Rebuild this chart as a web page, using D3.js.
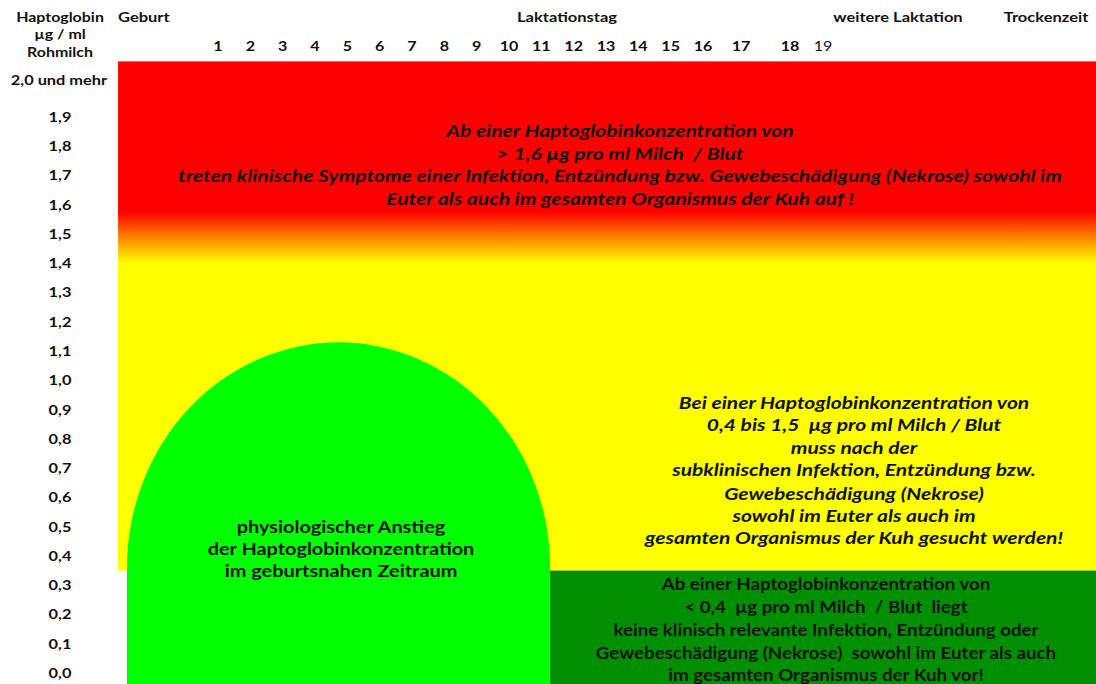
<!DOCTYPE html>
<html>
<head>
<meta charset="utf-8">
<script src="https://cdn.jsdelivr.net/npm/d3@7"></script>
<style>
  body { margin: 0; background: #fff; }
  text { font-family: Lato, "Open Sans", sans-serif; font-weight: bold; fill: #111; white-space: pre; }
</style>
</head>
<body>
<div id="chart"></div>
<script>
// y axis labels (µg / ml) and day labels
let yTicks = [0.0, 0.1, 0.2, 0.3, 0.4, 0.5, 0.6, 0.7, 0.8, 0.9, 1.0, 1.1, 1.2, 1.3, 1.4, 1.5, 1.6, 1.7, 1.8, 1.9];
let topLabel = "2,0 und mehr";
let days = [1, 2, 3, 4, 5, 6, 7, 8, 9, 10, 11, 12, 13, 14, 15, 16, 17, 18, 19];
let headers = ["Geburt", "Laktationstag", "weitere Laktation", "Trockenzeit"];
let yTitle = ["Haptoglobin", "µg / ml", "Rohmilch"];

// zones in data units (day, µg/ml)
let redZone = {from: 1.57, to: 2.09};
let fadeZone = {from: 1.40, to: 1.575};
let yellowZone = {from: 0.35, to: 1.40};
let darkGreenZone = {dayFrom: 11.27, from: -0.04, to: 0.35};
let arch = {dayFrom: -1.815, dayTo: 11.27, peak: 1.13, shoulder: 0.36};
let panelDays = [-2.09, 27.3];

let redText = ["Ab einer Haptoglobinkonzentration von",
    "> 1,6 µg pro ml Milch  / Blut",
    "treten klinische Symptome einer Infektion, Entzündung bzw. Gewebeschädigung (Nekrose) sowohl im",
    "Euter als auch im gesamten Organismus der Kuh auf !"];
let yellowText = ["Bei einer Haptoglobinkonzentration von",
    "0,4 bis 1,5  µg pro ml Milch / Blut",
    "muss nach der",
    "subklinischen Infektion, Entzündung bzw.",
    "Gewebeschädigung (Nekrose)",
    "sowohl im Euter als auch im",
    "gesamten Organismus der Kuh gesucht werden!"];
let archText = ["physiologischer Anstieg",
    "der Haptoglobinkonzentration",
    "im geburtsnahen Zeitraum"];
let greenText = ["Ab einer Haptoglobinkonzentration von",
    "< 0,4  µg pro ml Milch  / Blut  liegt",
    "keine klinisch relevante Infektion, Entzündung oder",
    "Gewebeschädigung (Nekrose)  sowohl im Euter als auch",
    "im gesamten Organismus der Kuh vor!"];

let width = 1096, height = 684;

let svg = d3.select("#chart").append("svg")
    .attr("width", width)
    .attr("height", height);

let y = d3.scaleLinear().domain([0, 1.9]).range([673, 117]);
let x = d3.scaleLinear()
    .domain([1, 16, 17, 18, 19])
    .range([218, 703, 741, 790, 823]);
// outside the day range the edge segments are extended
let xe = d => d < 1 ? x(1) + (d - 1) * (x(16) - x(1)) / 15
    : d > 19 ? x(19) + (d - 19) * 33 : x(d);

let px0 = xe(panelDays[0]), px1 = xe(panelDays[1]);

// gradient red -> yellow
let defs = svg.append("defs");
let grad = defs.append("linearGradient")
    .attr("id", "fade").attr("x1", 0).attr("y1", 0).attr("x2", 0).attr("y2", 1);
grad.append("stop").attr("offset", "0%").attr("stop-color", "#ff0000");
grad.append("stop").attr("offset", "45%").attr("stop-color", "#ff7a00");
grad.append("stop").attr("offset", "100%").attr("stop-color", "#ffff00");

svg.append("rect")
    .attr("x", px0).attr("width", px1 - px0)
    .attr("y", y(redZone.to)).attr("height", y(redZone.from) - y(redZone.to))
    .style("fill", "#ff0000");
svg.append("rect")
    .attr("x", px0).attr("width", px1 - px0)
    .attr("y", y(fadeZone.to)).attr("height", y(fadeZone.from) - y(fadeZone.to))
    .style("fill", "url(#fade)");
svg.append("rect")
    .attr("x", px0).attr("width", px1 - px0)
    .attr("y", y(yellowZone.to)).attr("height", y(yellowZone.from) - y(yellowZone.to))
    .style("fill", "#ffff00");
svg.append("rect")
    .attr("x", xe(darkGreenZone.dayFrom)).attr("width", px1 - xe(darkGreenZone.dayFrom))
    .attr("y", y(darkGreenZone.to)).attr("height", y(darkGreenZone.from) - y(darkGreenZone.to) + 2)
    .style("fill", "#008f00");

// green arch: half ellipse on top of a block
let ax0 = xe(arch.dayFrom), ax1 = xe(arch.dayTo);
let rx = (ax1 - ax0) / 2, ry = y(arch.shoulder) - y(arch.peak);
let archPath = d3.path();
archPath.moveTo(ax0, height + 2);
archPath.lineTo(ax0, y(arch.shoulder));
svg.append("path")
    .attr("d", archPath.toString() + " A" + rx + "," + ry + " 0 0 1 " + ax1 + "," + y(arch.shoulder)
        + " L" + ax1 + "," + (height + 2) + " Z")
    .style("fill", "#00ff00");

// text placed with a small horizontal stretch, like the original
function label(sel, size, sx) {
    return sel.attr("transform", d => "translate(" + d.x + "," + d.y + ") scale(" + sx + ",1)")
        .attr("dy", "0.35em")
        .style("font-size", size + "px");
}

let ylab = yTicks.map(v => ({x: 60, y: y(v), t: v.toFixed(1).replace(".", ",")}));
ylab.push({x: 59, y: y(2.0) - 8, t: topLabel});
label(svg.selectAll(".ylab").data(ylab).enter().append("text")
    .attr("text-anchor", "middle"), 14, 1.17)
    .text(d => d.t);

label(svg.selectAll(".ytitle").data(yTitle.map((t, i) => ({x: 60, y: 17 + i * 17.5, t: t})))
    .enter().append("text")
    .attr("text-anchor", "middle"), 14, 1.14)
    .text(d => d.t);

// headers
let headerX = [118, 567, 898, 1046];
label(svg.selectAll(".head").data(headers.map((t, i) => ({x: headerX[i], y: 17, t: t, i: i})))
    .enter().append("text")
    .attr("text-anchor", d => d.i == 0 ? "start" : "middle"), 14, 1.18)
    .text(d => d.t);

label(svg.selectAll(".day").data(days.map(d => ({x: x(d), y: 46, t: d})))
    .enter().append("text")
    .attr("text-anchor", "middle")
    .style("font-weight", d => d.t == 19 ? "normal" : "bold"), 14, 1.15)
    .text(d => d.t);

function block(lines, cx, ys, italic, size, sx) {
    label(svg.append("g").selectAll("text")
        .data(lines.map((t, i) => ({x: cx, y: ys[i], t: t})))
        .enter().append("text")
        .attr("text-anchor", "middle")
        .style("font-style", italic ? "italic" : "normal"), size, sx)
        .text(d => d.t);
}

block(redText, 620, [131, 154, 176, 199], true, 17.5, 1.2);
block(yellowText, 854, [403, 425, 448, 470, 494, 516, 538], true, 17.5, 1.2);
block(archText, 341, [527, 549, 571], false, 17, 1.17);
block(greenText, 826, [584, 607, 630, 653, 675], false, 17.5, 1.07);
</script>
</body>
</html>
